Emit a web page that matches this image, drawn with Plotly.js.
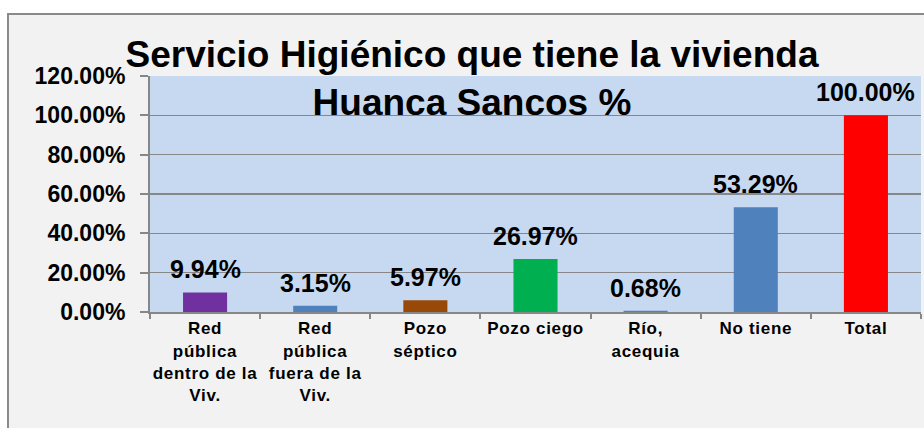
<!DOCTYPE html>
<html>
<head>
<meta charset="utf-8">
<script src="https://cdn.plot.ly/plotly-3.0.1.min.js"></script>
<style>
  html, body { margin: 0; padding: 0; background: #ffffff; width: 924px; height: 428px; overflow: hidden; }
  #marco {
    position: absolute; left: 7px; top: 13px; right: 0; bottom: 0;
    background: #f2f2f2;
    border-left: 2px solid #8a8a8a;
    border-top: 2px solid #8a8a8a;
  }
  #graph { width: 915px; height: 413px; }
  /* las etiquetas de categoria van algo espaciadas como en el original */
  #graph .xtick text { letter-spacing: 0.7px; }
</style>
</head>
<body>
<div id="marco"><div id="graph"></div></div>
<script>
// categorias y valores (%)
const categorias = [
    'Red<br>pública<br>dentro de la<br>Viv.',
    'Red<br>pública<br>fuera de la<br>Viv.',
    'Pozo<br>séptico',
    'Pozo ciego',
    'Río,<br>acequia',
    'No tiene',
    'Total'
];
const valores = [9.94, 3.15, 5.97, 26.97, 0.68, 53.29, 100.00];
const colores = ['#7030a0', '#4f81bd', '#984807', '#00b050', '#4f81bd', '#4f81bd', '#ff0000'];

const gris = '#878787';
const fuente = 'Liberation Sans, Arial, sans-serif';

const trace = {
    x: categorias,
    y: valores,
    type: 'bar',
    marker: { color: colores },
    hoverinfo: 'none'
};

// etiquetas de datos encima de cada barra
const etiquetas = valores.map((v, i) => ({
    x: categorias[i],
    y: v,
    text: v.toFixed(2) + '%',
    showarrow: false,
    yanchor: 'middle',
    yshift: 23,
    font: { family: fuente, size: 25, color: '#000000', weight: 'bold' }
}));

const layout = {
    width: 915,
    height: 413,
    margin: { l: 141, r: 3, t: 61, b: 116 },
    paper_bgcolor: '#f2f2f2',
    plot_bgcolor: '#c6d9f1',
    showlegend: false,
    bargap: 0.6,
    title: {
        text: 'Servicio Higiénico que tiene la vivienda<br>Huanca Sancos %',
        font: { family: fuente, size: 37, color: '#000000', weight: 'bold' },
        xref: 'container',
        yref: 'container',
        x: 0.506,
        xanchor: 'center',
        y: 0.874,
        yanchor: 'middle'
    },
    xaxis: {
        type: 'category',
        tickson: 'boundaries',
        ticks: 'outside',
        ticklen: 5,
        tickwidth: 2,
        tickcolor: gris,
        showline: true,
        linecolor: gris,
        linewidth: 2,
        tickfont: { family: fuente, size: 17, color: '#000000', weight: 'bold' },
        fixedrange: true
    },
    yaxis: {
        range: [0, 120],
        dtick: 20,
        tickformat: '.2f',
        ticksuffix: '%',
        ticks: 'outside',
        ticklen: 8,
        tickwidth: 2,
        tickcolor: gris,
        ticklabelstandoff: 10,
        showline: true,
        linecolor: gris,
        linewidth: 2,
        showgrid: true,
        gridcolor: gris,
        gridwidth: 1.5,
        zeroline: false,
        tickfont: { family: fuente, size: 23, color: '#000000', weight: 'bold' },
        fixedrange: true
    },
    annotations: etiquetas
};

Plotly.newPlot('graph', [trace], layout, { displayModeBar: false, staticPlot: true });
</script>
</body>
</html>
